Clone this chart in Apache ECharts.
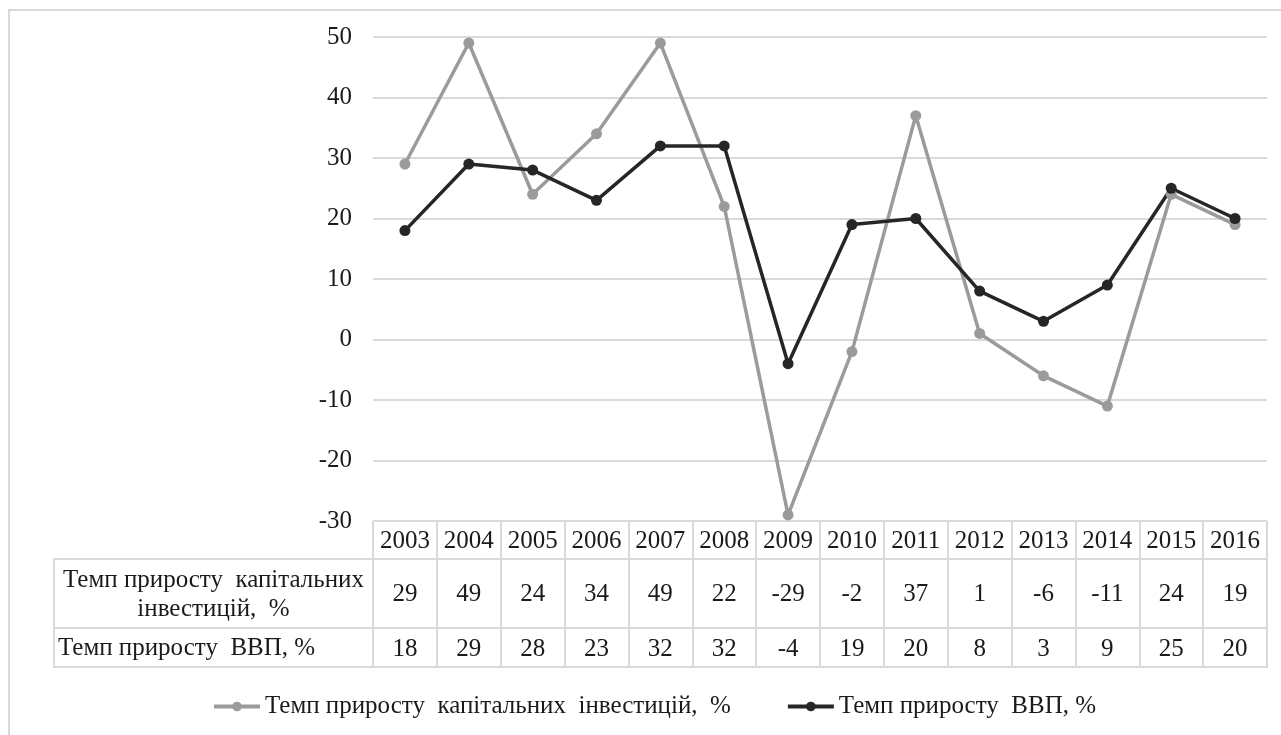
<!DOCTYPE html>
<html>
<head>
<meta charset="utf-8">
<script src="https://cdn.jsdelivr.net/npm/echarts@6/dist/echarts.min.js"></script>
<style>
  html, body { margin: 0; padding: 0; background: #ffffff; }
  #chart { width: 1281px; height: 735px; }
</style>
</head>
<body>
<div id="chart"></div>
<script>
// Years and growth rates (%), as listed in the data table under the chart
const years = ['2003', '2004', '2005', '2006', '2007', '2008', '2009', '2010', '2011', '2012', '2013', '2014', '2015', '2016'];
const capitalGrowth = [29, 49, 24, 34, 49, 22, -29, -2, 37, 1, -6, -11, 24, 19];
const gdpGrowth = [18, 29, 28, 23, 32, 32, -4, 19, 20, 8, 3, 9, 25, 20];
const capitalName = 'Темп приросту  капітальних  інвестицій,  %';
const gdpName = 'Темп приросту  ВВП, %';
const capitalRowLabel = 'Темп приросту  капітальних\nінвестицій,  %';
const gdpRowLabel = 'Темп приросту  ВВП, %';
const yTicks = { min: -30, max: 50, interval: 10 };

// Layout of the plot and of the data table below it
const W = 1281, H = 735;
const plotLeft = 373, plotRight = 1267, plotTop = 37, plotBottom = 521;
const tableLeft = 54;
const headerH = 38, row1H = 69, row2H = 39;
const border = '#d9d9d9';
const font = 'Liberation Serif';
const fontSize = 25;
const textColor = '#1a1a1a';
const grayLine = '#9b9b9b';
const darkLine = '#262626';

const chart = echarts.init(document.getElementById('chart'), null, { renderer: 'canvas' });

const tickStyle = (len) => ({
  show: true, length: len, interval: 0,
  lineStyle: { color: border, width: 2 }
});
const labelStyle = (margin) => ({
  interval: 0, margin: margin, fontFamily: font, fontSize: fontSize, color: textColor
});

const row1Y = plotBottom + headerH;
const row2Y = row1Y + row1H;
const tableBottom = row2Y + row2H;

chart.setOption({
  animation: false,
  backgroundColor: '#ffffff',
  grid: {
    left: plotLeft, right: W - plotRight, top: plotTop, bottom: H - plotBottom,
    containLabel: false
  },
  legend: {
    left: 212, top: 694, padding: 0,
    itemWidth: 46, itemHeight: 12, itemGap: 55,
    lineStyle: { width: 4 },
    textStyle: { fontFamily: font, fontSize: fontSize, color: textColor },
    data: [capitalName, gdpName]
  },
  xAxis: [
    {
      type: 'category', data: years, boundaryGap: true, position: 'bottom',
      axisLine: { show: false, onZero: false },
      axisTick: tickStyle(headerH),
      axisLabel: labelStyle(8)
    },
    {
      type: 'category', data: capitalGrowth.map(String), boundaryGap: true, position: 'bottom',
      offset: headerH,
      axisLine: { show: true, onZero: false, lineStyle: { color: border, width: 2 } },
      axisTick: tickStyle(row1H),
      axisLabel: labelStyle(23)
    },
    {
      type: 'category', data: gdpGrowth.map(String), boundaryGap: true, position: 'bottom',
      offset: headerH + row1H,
      axisLine: { show: true, onZero: false, lineStyle: { color: border, width: 2 } },
      axisTick: tickStyle(row2H),
      axisLabel: labelStyle(9)
    },
    {
      type: 'category', data: years, boundaryGap: true, position: 'bottom',
      offset: headerH + row1H + row2H,
      axisLine: { show: true, onZero: false, lineStyle: { color: border, width: 2 } },
      axisTick: { show: false },
      axisLabel: { show: false }
    }
  ],
  yAxis: {
    type: 'value', min: yTicks.min, max: yTicks.max, interval: yTicks.interval,
    axisLine: { show: false },
    axisTick: { show: false },
    splitLine: { lineStyle: { color: border, width: 2 } },
    axisLabel: { margin: 21, fontFamily: font, fontSize: fontSize, color: textColor }
  },
  series: [
    {
      name: capitalName, type: 'line', xAxisIndex: 0, data: capitalGrowth,
      symbol: 'circle', symbolSize: 11,
      lineStyle: { color: grayLine, width: 3.5 },
      itemStyle: { color: grayLine }
    },
    {
      name: gdpName, type: 'line', xAxisIndex: 0, data: gdpGrowth,
      symbol: 'circle', symbolSize: 11,
      lineStyle: { color: darkLine, width: 3.5 },
      itemStyle: { color: darkLine }
    }
  ],
  graphic: [
    // outer chart frame
    {
      type: 'rect', silent: true,
      shape: { x: 9, y: 10, width: W, height: H },
      style: { fill: null, stroke: border, lineWidth: 2 }
    },
    // row-label column of the data table
    {
      type: 'rect', silent: true,
      shape: { x: tableLeft, y: row1Y, width: plotLeft - tableLeft, height: tableBottom - row1Y },
      style: { fill: null, stroke: border, lineWidth: 2 }
    },
    {
      type: 'line', silent: true,
      shape: { x1: tableLeft, y1: row2Y, x2: plotLeft, y2: row2Y },
      style: { stroke: border, lineWidth: 2 }
    },
    {
      type: 'text', silent: true,
      x: (tableLeft + plotLeft) / 2, y: (row1Y + row2Y) / 2 + 1,
      style: {
        text: capitalRowLabel, fill: textColor, font: fontSize + 'px "' + font + '"',
        align: 'center', verticalAlign: 'middle', lineHeight: 29
      }
    },
    {
      type: 'text', silent: true,
      x: tableLeft + 4, y: (row2Y + tableBottom) / 2 + 1,
      style: {
        text: gdpRowLabel, fill: textColor, font: fontSize + 'px "' + font + '"',
        align: 'left', verticalAlign: 'middle'
      }
    }
  ]
});
</script>
</body>
</html>
